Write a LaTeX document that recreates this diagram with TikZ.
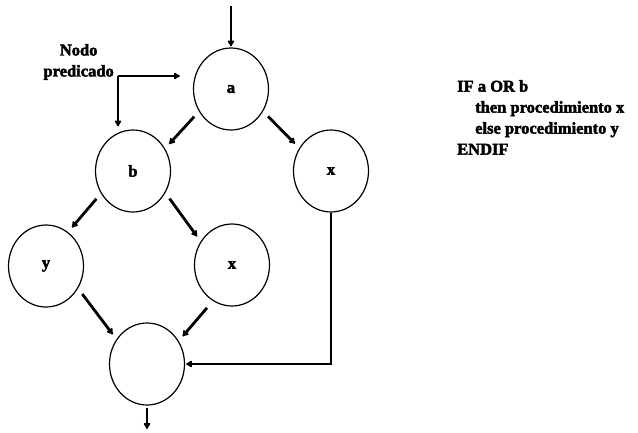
\documentclass[tikz,border=0pt]{standalone}
\usepackage{fontspec}
\setmainfont{Liberation Serif}[BoldFeatures={FakeBold=2.5}]
\usetikzlibrary{arrows.meta,shapes.geometric}
\begin{document}
\begin{tikzpicture}[x=1pt,y=-1pt,
  txt/.style={font=\bfseries\fontsize{16.5}{21}\selectfont, inner sep=0pt},
  flownode/.style={draw, ellipse, line width=1.2pt, minimum width=75pt,
    minimum height=82pt, inner sep=0pt, font=\bfseries\fontsize{16.5}{21}\selectfont},
  flow/.style={line width=2.8pt, -{Latex[round,length=7pt,width=8.5pt]}},
  edge/.style={flow, shorten <=7pt, shorten >=6pt}]
\useasboundingbox (0,0) rectangle (638,432);

% flow graph nodes
\node[flownode] (a)   at (231,89)  {a};
\node[flownode] (b)   at (133,171) {b};
\node[flownode] (xr)  at (331,171) {x};
\node[flownode] (y)   at (46,266)  {y};
\node[flownode] (xm)  at (232,265) {x};
\node[flownode] (bot) at (147,364) {};

% free ends of entry and exit
\coordinate (entry) at (231,6);
\coordinate (exit)  at (147,429);

% predicate node label and its pointer
\node[txt, align=center, anchor=east] (pred) at (114,62) {Nodo\\predicado};
\coordinate (pc) at (118,76);

% connectors
\draw[flow, shorten >=1pt] (entry) -- (a.north);
\draw[edge] (a.215) -- (b.35);
\draw[edge] (a.325) -- (xr.144);
\draw[edge] (b.215) -- (y.57);
\draw[edge] (b.326) -- (xm.143);
\draw[edge] (y.325) -- (bot.141);
\draw[edge, shorten <=9pt] (xm.242) -- (bot.36);
\draw[flow, line width=2.5pt, shorten >=1pt] (xr.south) |- (bot.east);
\draw[flow, shorten <=2pt] (bot.south) -- (exit);
\draw[flow, line width=2.5pt, shorten >=13pt] (pc) -- (pc -| a.west);
\draw[flow, line width=2.5pt, shorten >=3pt] (pc) -- (pc |- b.north);

% pseudocode
\node[txt, align=left, anchor=north west] (code) at (457,80)
  {IF a OR b\\\hspace*{18pt}then procedimiento x\\\hspace*{18pt}else procedimiento y\\ENDIF};
\end{tikzpicture}
\end{document}
